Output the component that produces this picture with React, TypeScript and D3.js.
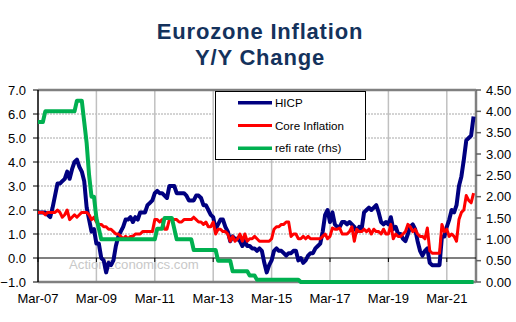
import React from "react";
import * as d3 from "d3";

// Monthly data, Mar-2007 .. Feb-2022
const hicp: number[] = [
  // 2007 Mar-Dec
  1.9, 1.9, 1.9, 1.9, 1.8, 1.7, 2.1, 2.6, 3.1, 3.1,
  // 2008
  3.2, 3.3, 3.6, 3.3, 3.7, 4.0, 4.1, 3.8, 3.6, 3.2, 2.1, 1.6,
  // 2009
  1.1, 1.2, 0.6, 0.6, 0.0, -0.1, -0.6, -0.2, -0.3, -0.1, 0.5, 0.9,
  // 2010
  1.1, 1.3, 1.6, 1.6, 1.7, 1.5, 1.7, 1.6, 1.9, 1.9, 1.9, 2.2,
  // 2011
  2.3, 2.4, 2.7, 2.8, 2.7, 2.7, 2.6, 2.5, 3.0, 3.0, 3.0, 2.7,
  // 2012
  2.7, 2.7, 2.7, 2.6, 2.4, 2.4, 2.4, 2.6, 2.6, 2.5, 2.2, 2.2,
  // 2013
  2.0, 1.8, 1.7, 1.2, 1.4, 1.6, 1.6, 1.3, 1.1, 0.7, 0.9, 0.8,
  // 2014
  0.8, 0.7, 0.5, 0.7, 0.5, 0.5, 0.4, 0.4, 0.3, 0.4, 0.3, -0.2,
  // 2015
  -0.6, -0.3, -0.1, 0.3, 0.4, 0.3, 0.3, 0.2, 0.1, 0.2, 0.2, 0.3,
  // 2016
  0.3, -0.1, 0.0, -0.2, -0.1, 0.1, 0.2, 0.2, 0.4, 0.5, 0.6, 1.1,
  // 2017
  1.8, 2.0, 1.5, 1.9, 1.4, 1.3, 1.3, 1.5, 1.5, 1.4, 1.5, 1.4,
  // 2018
  1.3, 1.1, 1.3, 1.2, 1.9, 2.0, 2.1, 2.0, 2.1, 2.2, 1.9, 1.5,
  // 2019
  1.4, 1.5, 1.4, 1.7, 1.2, 1.3, 1.0, 1.0, 0.8, 0.7, 1.0, 1.3,
  // 2020
  1.4, 1.2, 0.7, 0.3, 0.1, 0.3, 0.4, -0.2, -0.3, -0.3, -0.3, -0.3,
  // 2021
  0.9, 0.9, 1.3, 1.6, 2.0, 1.9, 2.2, 3.0, 3.4, 4.1, 4.9, 5.0,
  // 2022 Jan-Feb
  5.1, 5.9,
];

const coreInflation: number[] = [
  // 2007 Mar-Dec
  1.9, 1.9, 1.9, 1.8, 1.9, 1.9, 1.9, 1.9, 2.0, 1.9,
  // 2008
  1.7, 1.8, 2.0, 1.6, 1.7, 1.8, 1.7, 1.8, 1.9, 1.9, 1.9, 1.8,
  // 2009
  1.6, 1.7, 1.5, 1.4, 1.4, 1.3, 1.3, 1.2, 1.2, 1.1, 1.0, 1.0,
  // 2010
  0.9, 0.8, 0.9, 0.8, 0.9, 0.9, 1.0, 1.0, 1.0, 1.1, 1.1, 1.1,
  // 2011
  1.1, 1.1, 1.6, 1.6, 1.5, 1.6, 1.2, 1.2, 1.6, 1.6, 1.6, 1.6,
  // 2012
  1.5, 1.5, 1.6, 1.6, 1.6, 1.6, 1.7, 1.6, 1.5, 1.5, 1.4, 1.5,
  // 2013
  1.3, 1.3, 1.5, 1.0, 1.2, 1.2, 1.1, 1.1, 1.0, 0.7, 0.9, 0.7,
  // 2014
  0.8, 1.0, 0.7, 1.0, 0.7, 0.8, 0.8, 0.9, 0.8, 0.7, 0.7, 0.7,
  // 2015
  0.7, 0.7, 0.8, 1.2, 1.3, 1.3, 1.4, 1.4, 1.5, 1.5, 0.9, 1.0,
  // 2016
  1.0, 0.8, 0.8, 0.9, 0.8, 0.9, 0.8, 0.8, 0.8, 0.8, 0.8, 0.9,
  // 2017
  1.0, 0.8, 0.9, 1.25, 1.2, 1.2, 1.25, 1.0, 1.0, 1.0, 1.1, 1.3,
  // 2018
  0.7, 1.2, 1.1, 1.1, 1.2, 1.1, 1.2, 1.0, 1.2, 1.1, 1.1, 1.0,
  // 2019
  1.2, 1.0, 1.0, 1.4, 0.8, 1.0, 0.9, 0.9, 1.0, 1.1, 1.4, 1.3,
  // 2020
  1.1, 1.2, 1.0, 0.9, 0.9, 0.8, 1.25, 0.3, 0.2, 0.2, 0.2, 0.2,
  // 2021
  1.4, 1.1, 1.2, 0.9, 1.0, 0.9, 0.7, 1.6, 1.9, 2.0, 2.6, 2.4,
  // 2022 Jan-Feb
  2.3, 2.7,
];

const refiRate: number[] = [
  // 2007 Mar-Dec
  3.75, 3.75, 3.75, 4.0, 4.0, 4.0, 4.0, 4.0, 4.0, 4.0,
  // 2008
  4.0, 4.0, 4.0, 4.0, 4.0, 4.0, 4.25, 4.25, 4.25, 3.75, 3.25, 2.5,
  // 2009
  2.0, 2.0, 1.5, 1.25, 1.0, 1.0, 1.0, 1.0, 1.0, 1.0, 1.0, 1.0,
  // 2010
  1.0, 1.0, 1.0, 1.0, 1.0, 1.0, 1.0, 1.0, 1.0, 1.0, 1.0, 1.0,
  // 2011
  1.0, 1.0, 1.0, 1.25, 1.25, 1.25, 1.5, 1.5, 1.5, 1.5, 1.25, 1.0,
  // 2012
  1.0, 1.0, 1.0, 1.0, 1.0, 1.0, 0.75, 0.75, 0.75, 0.75, 0.75, 0.75,
  // 2013
  0.75, 0.75, 0.75, 0.75, 0.5, 0.5, 0.5, 0.5, 0.5, 0.5, 0.25, 0.25,
  // 2014
  0.25, 0.25, 0.25, 0.25, 0.25, 0.15, 0.15, 0.15, 0.05, 0.05, 0.05, 0.05,
  // 2015
  0.05, 0.05, 0.05, 0.05, 0.05, 0.05, 0.05, 0.05, 0.05, 0.05, 0.05, 0.05,
  // 2016
  0.05, 0.05, 0, 0, 0, 0, 0, 0, 0, 0, 0, 0,
  // 2017
  0, 0, 0, 0, 0, 0, 0, 0, 0, 0, 0, 0,
  // 2018
  0, 0, 0, 0, 0, 0, 0, 0, 0, 0, 0, 0,
  // 2019
  0, 0, 0, 0, 0, 0, 0, 0, 0, 0, 0, 0,
  // 2020
  0, 0, 0, 0, 0, 0, 0, 0, 0, 0, 0, 0,
  // 2021
  0, 0, 0, 0, 0, 0, 0, 0, 0, 0, 0, 0,
  // 2022 Jan-Feb
  0, 0,
];

const xTickLabels = ["Mar-07", "Mar-09", "Mar-11", "Mar-13", "Mar-15", "Mar-17", "Mar-19", "Mar-21"];
const leftTicks = [-1, 0, 1, 2, 3, 4, 5, 6, 7];
const rightTicks = [0, 0.5, 1, 1.5, 2, 2.5, 3, 3.5, 4, 4.5];
const legendLabels = ["HICP", "Core Inflation", "refi rate (rhs)"];
const titleLines = ["Eurozone Inflation", "Y/Y Change"];

const W = 516;
const H = 322;
const L = 38, R = 476, T = 90, B = 282;
const FONT = "'Liberation Sans', Arial, sans-serif";

export default function App() {
  const x = d3.scaleLinear().domain([0, 180]).range([L, R]);
  const yL = d3.scaleLinear().domain([-1, 7]).range([B, T]);
  const yR = d3.scaleLinear().domain([0, 4.5]).range([B, T]);

  const lineL = d3.line<number>().x((_, i) => x(i)).y((d) => yL(d));
  const lineR = d3.line<number>().x((_, i) => x(i)).y((d) => yR(d));

  const xTicks = xTickLabels.map((_, i) => i * 24);
  const colors = ["#000080", "#FF0000", "#00B050"];
  const widths = [4, 3, 4];

  return (
    <svg width={W} height={H} style={{ position: "absolute", left: 0, top: 0, background: "#fff" }} fontFamily={FONT}>
      {/* title */}
      {titleLines.map((t, i) => (
        <text key={t} x={260} y={39 + i * 25.5} textAnchor="middle" fontSize={22} fontWeight="bold"
          fill="#14325C" letterSpacing={0.8}>{t}</text>
      ))}

      {/* watermark */}
      <text x={69} y={269} fontSize={13.2} fill="#C8C8C8">ActionEconomics.com</text>

      {/* horizontal gridlines */}
      {leftTicks.filter((v) => v !== -1 && v !== 7 && v !== 0).map((v) => (
        <line key={"h" + v} x1={L} x2={R} y1={yL(v)} y2={yL(v)} stroke="#A8A8A8" strokeWidth={1} strokeDasharray="2,1" />
      ))}
      {/* vertical gridlines */}
      {xTicks.filter((m) => m > 0).map((m) => (
        <line key={"v" + m} x1={x(m)} x2={x(m)} y1={T} y2={B} stroke="#C0C0C0" strokeWidth={1.5} />
      ))}

      {/* plot border */}
      <line x1={L} x2={R} y1={T} y2={T} stroke="#808080" strokeWidth={2.5} />
      <line x1={L} x2={R} y1={B} y2={B} stroke="#808080" strokeWidth={2.5} />
      <line x1={R} x2={R} y1={T} y2={B} stroke="#808080" strokeWidth={2.5} />

      {/* zero line with x ticks */}
      <line x1={L} x2={R} y1={yL(0)} y2={yL(0)} stroke="#000" strokeWidth={1.2} />
      {xTicks.map((m) => (
        <line key={"xt" + m} x1={x(m)} x2={x(m)} y1={yL(0)} y2={yL(0) + 4} stroke="#000" strokeWidth={1} />
      ))}

      {/* left axis */}
      <line x1={L} x2={L} y1={T} y2={B} stroke="#000" strokeWidth={1.5} />
      {leftTicks.map((v) => (
        <g key={"l" + v}>
          <line x1={L - 5} x2={L} y1={yL(v)} y2={yL(v)} stroke="#000" strokeWidth={1} />
          <text x={26} y={yL(v)} dy="0.35em" textAnchor="end" fontSize={13} fill="#000">{d3.format(".1f")(v)}</text>
        </g>
      ))}

      {/* right axis */}
      {rightTicks.map((v) => (
        <g key={"r" + v}>
          <line x1={R} x2={R + 5} y1={yR(v)} y2={yR(v)} stroke="#606060" strokeWidth={1.5} />
          <text x={486} y={yR(v)} dy="0.35em" textAnchor="start" fontSize={13} fill="#000">{d3.format(".2f")(v)}</text>
        </g>
      ))}

      {/* x labels */}
      {xTicks.map((m, i) => (
        <text key={"xl" + m} x={x(m)} y={303} textAnchor="middle" fontSize={13} fill="#000">{xTickLabels[i]}</text>
      ))}

      {/* series */}
      <path d={lineL(hicp) || ""} fill="none" stroke={colors[0]} strokeWidth={widths[0]} strokeLinejoin="round" />
      <path d={lineL(coreInflation) || ""} fill="none" stroke={colors[1]} strokeWidth={widths[1]} strokeLinejoin="round" />
      <path d={lineR(refiRate) || ""} fill="none" stroke={colors[2]} strokeWidth={widths[2]} strokeLinejoin="round" />

      {/* legend */}
      <rect x={215.5} y={91.5} width={150} height={68} fill="#fff" stroke="#000" strokeWidth={1} />
      {legendLabels.map((lab, i) => {
        const ly = 102.7 + i * 22.8;
        return (
          <g key={lab}>
            <line x1={238} x2={272} y1={ly} y2={ly} stroke={colors[i]} strokeWidth={i === 1 ? 3 : 3.5} />
            <text x={275} y={ly} dy="0.35em" fontSize={11.6} fill="#000">{lab}</text>
          </g>
        );
      })}
    </svg>
  );
}
